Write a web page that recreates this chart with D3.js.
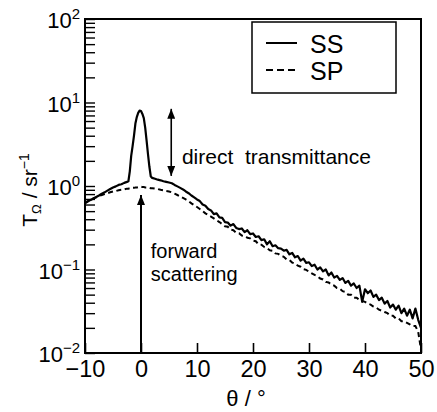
<!DOCTYPE html>
<html>
<head>
<meta charset="utf-8">
<script src="https://cdn.jsdelivr.net/npm/d3@7"></script>
<style>
  body { margin: 0; background: #fff; }
  text { font-family: "Liberation Sans Narrow", "Arial Narrow", "Liberation Sans", Arial, sans-serif; fill: #000; }
  .note { font-family: "Liberation Sans", Arial, sans-serif; }
</style>
</head>
<body>
<svg id="chart" width="437" height="412"></svg>
<script>
//scattering angle in degrees
const theta = [
  -10,-9.5,-9,-8.5,-8,-7.5,-7,-6.5,-6,-5.5,-5,-4.5,-4,-3.5,-3,-2.5,
  -2.25,-2,-1.75,-1.5,-1.25,-1,-0.75,-0.5,-0.25,0,0.25,0.5,0.75,1,1.25,1.5,1.75,2,
  2.5,3,3.5,4,4.5,
  5,5.5,6,6.5,7,7.5,8,8.5,9,9.5,
  10,10.5,11,11.5,12,12.5,13,13.5,14,14.5,
  15,15.5,16,16.5,17,17.5,18,18.5,19,19.5,
  20,20.5,21,21.5,22,22.5,23,23.5,24,24.5,
  25,25.5,26,26.5,27,27.5,28,28.5,29,29.5,
  30,30.5,31,31.5,32,32.5,33,33.5,34,34.5,
  35,35.5,36,36.5,37,37.5,38,38.5,39,39.5,
  40,40.5,41,41.5,42,42.5,43,43.5,44,44.5,
  45,45.5,46,46.5,47,47.5,48,48.5,49,49.5,
  50
];
//SS transmittance (solid)
const ss = [
  0.63,0.66,0.68,0.71,0.74,0.77,0.81,0.84,0.88,0.92,0.96,0.99,1.03,1.05,1.09,1.12,
  1.14,1.5,2.3,3.0,4.0,5.6,6.7,7.5,8.0,7.9,7.3,6.5,5.0,3.5,2.4,1.7,1.3,1.25,
  1.22,1.19,1.17,1.14,1.12,
  1.10,1.08,1.03,0.99,0.95,0.91,0.86,0.82,0.77,0.73,
  0.69,0.66,0.60,0.58,0.53,0.51,0.46,0.47,0.42,0.415,
  0.37,0.365,0.335,0.35,0.315,0.305,0.31,0.28,0.295,0.265,
  0.27,0.245,0.25,0.225,0.23,0.2,0.218,0.19,0.195,0.18,
  0.178,0.168,0.172,0.152,0.158,0.14,0.145,0.128,0.135,0.12,
  0.122,0.11,0.114,0.1,0.106,0.095,0.1,0.085,0.092,0.08,
  0.084,0.075,0.079,0.069,0.073,0.064,0.068,0.06,0.064,0.041,
  0.058,0.052,0.056,0.047,0.05,0.043,0.046,0.039,0.042,0.035,
  0.038,0.033,0.037,0.03,0.034,0.028,0.033,0.026,0.034,0.025,
  0.02
];
//SP transmittance (dashed)
const sp = [
  0.62,0.65,0.68,0.71,0.73,0.76,0.78,0.80,0.82,0.84,0.86,0.87,0.89,0.90,0.91,0.93,
  0.93,0.94,0.94,0.95,0.95,0.96,0.96,0.97,0.97,0.98,0.97,0.97,0.96,0.96,0.95,0.95,0.94,0.94,
  0.93,0.92,0.90,0.89,0.87,
  0.86,0.84,0.81,0.78,0.75,0.72,0.69,0.66,0.62,0.59,
  0.56,0.53,0.50,0.47,0.45,0.43,0.41,0.39,0.37,0.35,
  0.33,0.325,0.30,0.295,0.275,0.272,0.255,0.252,0.24,0.236,
  0.222,0.218,0.2,0.198,0.186,0.18,0.17,0.168,0.156,0.154,
  0.146,0.142,0.132,0.13,0.121,0.118,0.111,0.108,0.101,0.099,
  0.094,0.09,0.086,0.083,0.078,0.076,0.071,0.07,0.066,0.064,
  0.06,0.059,0.055,0.054,0.05,0.05,0.046,0.046,0.043,0.042,
  0.041,0.039,0.038,0.036,0.035,0.033,0.032,0.031,0.030,0.028,
  0.028,0.026,0.026,0.024,0.024,0.023,0.022,0.021,0.021,0.018,
  0.011
];
const xTicks = [-10, 0, 10, 20, 30, 40, 50];
const yDecades = [0.01, 0.1, 1, 10, 100];
const yExponents = ["\u22122", "\u22121", "0", "1", "2"];
const seriesNames = ["SS", "SP"];

//plot frame
const plotLeft = 85, plotRight = 421, plotTop = 19, plotBottom = 353;

const svg = d3.select("#chart");

const x = d3.scaleLinear().domain([-10, 50]).range([plotLeft, plotRight]);
const y = d3.scaleLog().domain([0.01, 100]).range([plotBottom, plotTop]);

const defs = svg.append("defs");
defs.append("clipPath").attr("id", "clip")
  .append("rect")
  .attr("x", plotLeft).attr("y", plotTop)
  .attr("width", plotRight - plotLeft).attr("height", plotBottom - plotTop);

defs.append("marker")
  .attr("id", "head")
  .attr("markerUnits", "userSpaceOnUse")
  .attr("viewBox", "0 0 10 8")
  .attr("refX", 10).attr("refY", 4)
  .attr("markerWidth", 10).attr("markerHeight", 8)
  .attr("orient", "auto-start-reverse")
  .append("path")
  .attr("d", "M0,0 L10,4 L0,8 Z")
  .attr("fill", "#000");

//x axis, ticks pointing into the plot
const xAxis = d3.axisBottom(x)
  .tickValues(xTicks)
  .tickSizeInner(-10)
  .tickSizeOuter(0)
  .tickPadding(7)
  .tickFormat(d => d < 0 ? "\u2212" + Math.abs(d) : d);

svg.append("g")
  .attr("transform", "translate(0," + plotBottom + ")")
  .call(xAxis)
  .call(g => g.select(".domain").remove())
  .call(g => g.selectAll("line").attr("stroke-width", 1.6))
  .call(g => g.selectAll("text").style("font-size", "23.5px").attr("fill", "#000"));

//y axis: minor log ticks, labels only on decades
const yAxis = d3.axisLeft(y)
  .tickSizeInner(-10)
  .tickSizeOuter(0)
  .tickPadding(6)
  .tickFormat(() => "");

svg.append("g")
  .attr("transform", "translate(" + plotLeft + ",0)")
  .call(yAxis)
  .call(g => g.select(".domain").remove())
  .call(g => g.selectAll("line").attr("stroke-width", 1.4));

const yLab = svg.append("g").selectAll("text")
  .data(yDecades)
  .join("text")
  .attr("x", plotLeft - 5)
  .attr("y", d => y(d) + 9)
  .attr("text-anchor", "end")
  .style("font-size", "22px");
yLab.append("tspan").text("10");
yLab.append("tspan")
  .attr("dy", -9)
  .style("font-size", "15px")
  .text((d, i) => yExponents[i]);

//curves
const line = d3.line()
  .x((d, i) => x(theta[i]))
  .y(d => y(d));

const curves = svg.append("g").attr("clip-path", "url(#clip)");
curves.append("path")
  .datum(sp)
  .attr("d", line)
  .attr("fill", "none")
  .attr("stroke", "#000")
  .attr("stroke-width", 2)
  .attr("stroke-dasharray", "5,3.5");
curves.append("path")
  .datum(ss)
  .attr("d", line)
  .attr("fill", "none")
  .attr("stroke", "#000")
  .attr("stroke-width", 2.2)
  .attr("stroke-linejoin", "round");

//frame
svg.append("rect")
  .attr("x", plotLeft).attr("y", plotTop)
  .attr("width", plotRight - plotLeft).attr("height", plotBottom - plotTop)
  .attr("fill", "none")
  .attr("stroke", "#000")
  .attr("stroke-width", 2);

//arrows
svg.append("line")
  .attr("x1", x(5.4)).attr("x2", x(5.4))
  .attr("y1", y(1.32)).attr("y2", y(8.4))
  .attr("stroke", "#000").attr("stroke-width", 1.6)
  .attr("marker-start", "url(#head)")
  .attr("marker-end", "url(#head)");
svg.append("line")
  .attr("x1", x(0)).attr("x2", x(0))
  .attr("y1", y(0.01)).attr("y2", y(0.78))
  .attr("stroke", "#000").attr("stroke-width", 2)
  .attr("marker-end", "url(#head)");

//annotations
svg.append("text").attr("class", "note")
  .attr("x", x(7.3)).attr("y", y(1.83))
  .style("font-size", "21px")
  .style("white-space", "pre")
  .text("direct  transmittance");
svg.append("text").attr("class", "note")
  .attr("x", x(1.75)).attr("y", 258)
  .style("font-size", "20px")
  .text("forward");
svg.append("text").attr("class", "note")
  .attr("x", x(1.75)).attr("y", 281)
  .style("font-size", "20px")
  .text("scattering");

//legend
const legend = svg.append("g");
legend.append("rect")
  .attr("x", 252).attr("y", 22)
  .attr("width", 144).attr("height", 71)
  .attr("fill", "#fff")
  .attr("stroke", "#000")
  .attr("stroke-width", 1.5);
legend.selectAll("line")
  .data(seriesNames)
  .join("line")
  .attr("x1", 266).attr("x2", 297)
  .attr("y1", (d, i) => 43 + i * 27).attr("y2", (d, i) => 43 + i * 27)
  .attr("stroke", "#000")
  .attr("stroke-width", 2)
  .attr("stroke-dasharray", (d, i) => i ? "7,4" : null);
legend.selectAll("text")
  .data(seriesNames)
  .join("text")
  .attr("x", 310)
  .attr("y", (d, i) => 53 + i * 27)
  .style("font-size", "25px")
  .text(d => d);

//axis titles
const yTitle = svg.append("text")
  .attr("transform", "translate(37,190) rotate(-90)")
  .attr("text-anchor", "middle")
  .style("font-size", "21px");
yTitle.append("tspan").text("T");
yTitle.append("tspan").attr("dy", 4).style("font-size", "13px").text("\u03a9");
yTitle.append("tspan").attr("dy", -4).text(" / sr");
yTitle.append("tspan").attr("dy", -8).style("font-size", "14px").text("\u22121");

svg.append("text")
  .attr("x", 246).attr("y", 406)
  .attr("text-anchor", "middle")
  .style("font-size", "22px")
  .text("\u03b8 / \u00b0");
</script>
</body>
</html>
